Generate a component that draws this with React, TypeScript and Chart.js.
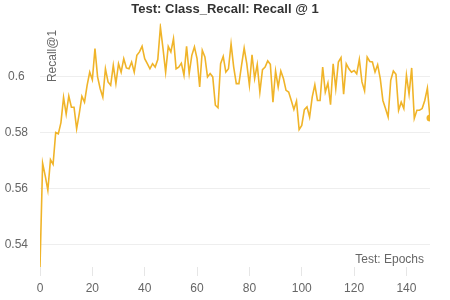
import React, { useEffect, useRef } from "react";
import { Chart, registerables } from "chart.js";

Chart.register(...registerables);

const TITLE = "Test: Class_Recall: Recall @ 1";
const X_TITLE = "Test: Epochs";
const Y_TITLE = "Recall@1";
const LINE_COLOR = "#f0b429";

const xTickValues: number[] = [0, 20, 40, 60, 80, 100, 120, 140];
const yTickValues: number[] = [0.54, 0.56, 0.58, 0.6];

const epochs: number[] = Array.from({ length: 150 }, (_, i) => i);

const recall: number[] = [
  0.532, 0.569, 0.5645, 0.5594, 0.5703, 0.5686, 0.580, 0.5795, 0.5835, 0.5925,
  0.5865, 0.593, 0.589, 0.589, 0.5813, 0.5867, 0.5929, 0.5908, 0.5968, 0.6015,
  0.5988, 0.6099, 0.5998, 0.5956, 0.5926, 0.6027, 0.598, 0.5968, 0.6039, 0.5974,
  0.6045, 0.6015, 0.6063, 0.603, 0.6027, 0.6051, 0.6015, 0.6075, 0.6087, 0.6107,
  0.6063, 0.6045, 0.6027, 0.6045, 0.6033, 0.606, 0.6176, 0.6099, 0.6015, 0.6107,
  0.6087, 0.6134, 0.6027, 0.6033, 0.6047, 0.6004, 0.6107, 0.601, 0.6075, 0.6105,
  0.6063, 0.5962, 0.6093, 0.6069, 0.5998, 0.601, 0.5998, 0.5897, 0.5888, 0.6045,
  0.6071, 0.6015, 0.6027, 0.6116, 0.6033, 0.5974, 0.5974, 0.6039, 0.6101, 0.6045,
  0.5968, 0.6077, 0.5992, 0.6042, 0.5944, 0.6024, 0.6033, 0.6055, 0.6043, 0.5908,
  0.6019, 0.5962, 0.6019, 0.5992, 0.595, 0.5944, 0.5914, 0.5882, 0.5912, 0.581,
  0.5825, 0.5881, 0.5891, 0.5855, 0.5926, 0.597, 0.5914, 0.5914, 0.6033, 0.5944,
  0.5976, 0.5899, 0.6045, 0.5956, 0.6051, 0.6067, 0.5936, 0.6045, 0.6027, 0.6015,
  0.6021, 0.6009, 0.606, 0.598, 0.5948, 0.6069, 0.6053, 0.6051, 0.6015, 0.6041,
  0.5992, 0.5914, 0.5885, 0.5855, 0.5986, 0.6019, 0.6007, 0.5879, 0.5908, 0.5885,
  0.6004, 0.5936, 0.603, 0.585, 0.5879, 0.5879, 0.5885, 0.5914, 0.5958, 0.5851,
];

const FONT = "'Liberation Sans', Arial, Helvetica, sans-serif";

const innerTitles = {
  id: "innerTitles",
  afterDraw(chart: any) {
    const { ctx, chartArea, width } = chart;
    ctx.save();
    ctx.fillStyle = "#333";
    ctx.font = `bold 13px ${FONT}`;
    ctx.textAlign = "center";
    ctx.textBaseline = "middle";
    ctx.fillText(TITLE, width / 2, 9);
    ctx.fillStyle = "#666";
    ctx.font = `12px ${FONT}`;
    ctx.textAlign = "right";
    ctx.fillText(X_TITLE, chartArea.right - 6, chartArea.bottom - 7);
    ctx.translate(chartArea.left + 12.5, chartArea.top + 29);
    ctx.rotate(-Math.PI / 2);
    ctx.textAlign = "center";
    ctx.fillText(Y_TITLE, 0, 0);
    ctx.restore();
  },
};

export default function App() {
  const ref = useRef<HTMLCanvasElement | null>(null);
  useEffect(() => {
    if (!ref.current) return;
    const last = recall.length - 1;
    const chart = new Chart(ref.current, {
      type: "line",
      data: {
        datasets: [
          {
            data: epochs.map((e, i) => ({ x: e, y: recall[i] })),
            borderColor: LINE_COLOR,
            backgroundColor: LINE_COLOR,
            borderWidth: 1.6,
            tension: 0,
            pointRadius: (c: any) => (c.dataIndex === last ? 3.5 : 0),
            pointHoverRadius: 0,
            pointBorderWidth: 0,
          },
        ],
      },
      options: {
        animation: false,
        responsive: false,
        layout: { padding: { left: 0, right: 20, top: 27, bottom: 0 } },
        plugins: {
          legend: { display: false },
          tooltip: { enabled: false },
          title: { display: false },
        },
        scales: {
          x: {
            type: "linear",
            bounds: "data",
            min: 0,
            max: 149,
            border: { display: false },
            grid: {
              drawOnChartArea: false,
              drawTicks: true,
              tickLength: 9,
              color: "#e6e6e6",
            },
            ticks: {
              color: "#666",
              font: { family: FONT, size: 12 },
              padding: 5,
              maxRotation: 0,
            },
            afterBuildTicks: (s: any) => {
              s.ticks = xTickValues.map((v) => ({ value: v }));
            },
            afterFit: (s: any) => {
              s.height = 33;
            },
          },
          y: {
            type: "linear",
            bounds: "data",
            border: { display: false },
            grid: { color: "#eeeeee", drawTicks: false },
            ticks: {
              color: "#666",
              font: { family: FONT, size: 12 },
              padding: 12,
              crossAlign: "center",
              callback: (v: any) => String(Math.round(Number(v) * 100) / 100),
            },
            afterBuildTicks: (s: any) => {
              s.ticks = yTickValues.map((v) => ({ value: v }));
            },
            afterFit: (s: any) => {
              s.width = 40;
            },
          },
        },
      },
      plugins: [innerTitles],
    } as any);
    return () => chart.destroy();
  }, []);
  return (
    <div style={{ position: "fixed", left: 0, top: 0, width: 450, height: 300, background: "#fff" }}>
      <canvas ref={ref} width={450} height={300} style={{ width: 450, height: 300 }} />
    </div>
  );
}
